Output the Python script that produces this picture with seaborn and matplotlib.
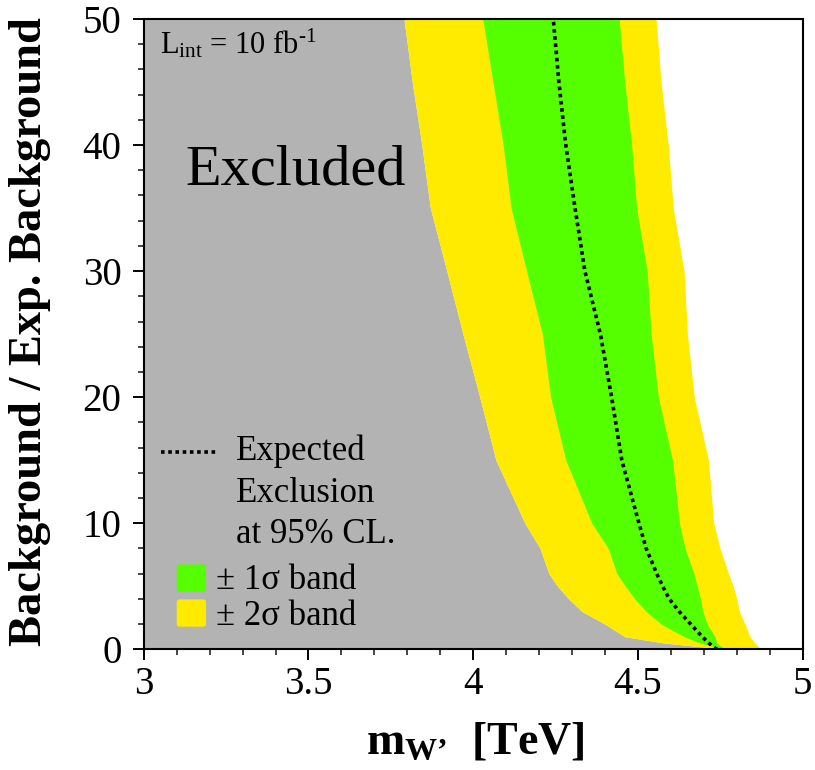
import numpy as np
import pandas as pd
import matplotlib
matplotlib.use("Agg")
import matplotlib.pyplot as plt
from matplotlib.patches import FancyBboxPatch
import seaborn as sns

# ---- data ----
sig_ratio = [0.0, 0.1, 0.5, 1, 2, 3, 4, 5, 6, 8, 10, 15, 20, 25, 30, 35, 40, 45, 50]
lo2 = [4.75, 4.73, 4.58, 4.46, 4.40, 4.33, 4.29, 4.256, 4.23, 4.203, 4.157, 4.069, 4.02,
       3.969, 3.92, 3.87, 3.844, 3.815, 3.79]
lo1 = [4.76, 4.75, 4.688, 4.64, 4.57, 4.525, 4.49, 4.462, 4.436, 4.41, 4.36, 4.281, 4.235,
       4.21, 4.162, 4.115, 4.091, 4.06, 4.029]
expected = [4.74, 4.734, 4.715, 4.695, 4.66, 4.625, 4.595, 4.575, 4.557, 4.525, 4.503, 4.451,
            4.42, 4.386, 4.339, 4.309, 4.281, 4.26, 4.243]
hi1 = [4.77, 4.76, 4.739, 4.734, 4.71, 4.697, 4.69, 4.68, 4.67, 4.643, 4.626, 4.605, 4.562,
       4.54, 4.528, 4.496, 4.481, 4.46, 4.443]
hi2 = [4.87, 4.87, 4.855, 4.84, 4.825, 4.808, 4.80, 4.789, 4.775, 4.749, 4.73, 4.714, 4.671,
       4.65, 4.64, 4.607, 4.592, 4.57, 4.555]
xticks = [3, 3.5, 4, 4.5, 5]
xticklabels = ["3", "3.5", "4", "4.5", "5"]
yticks = [0, 10, 20, 30, 40, 50]

df = pd.DataFrame({"y": sig_ratio, "lo2": lo2, "lo1": lo1, "exp": expected,
                   "hi1": hi1, "hi2": hi2})

GRAY = "#b3b3b3"
YELLOW = "#ffeb00"
GREEN = "#55ff00"

sns.set_theme(style="white")
plt.rcParams["font.family"] = ["Liberation Serif", "DejaVu Serif"]
plt.rcParams["text.color"] = "black"
plt.rcParams["axes.labelcolor"] = "black"
plt.rcParams["mathtext.fontset"] = "custom"
plt.rcParams["mathtext.rm"] = "Liberation Serif"
plt.rcParams["mathtext.it"] = "Liberation Serif:italic"
plt.rcParams["mathtext.bf"] = "Liberation Serif:bold"

fig = plt.figure(figsize=(8.15, 7.7), dpi=100)
W, H = 815, 770
ax_l, ax_r, ax_t, ax_b = 143.7, 802.7, 19.0, 649.3
ax = fig.add_axes([ax_l / W, 1 - ax_b / H, (ax_r - ax_l) / W, (ax_b - ax_t) / H])

ax.fill_betweenx(df["y"], 3, df["lo2"], color=GRAY, lw=0)
ax.fill_betweenx(df["y"], df["lo2"], df["hi2"], color=YELLOW, lw=0)
ax.fill_betweenx(df["y"], df["lo1"], df["hi1"], color=GREEN, lw=0)
sns.lineplot(data=df, x="exp", y="y", sort=False, estimator=None, ax=ax,
             color="black", lw=2.6)
ax.lines[-1].set_linestyle((0, (1, 1)))
ax.lines[-1].set_dash_capstyle("butt")

ax.set_xlim(3, 5)
ax.set_ylim(0, 50)
ax.set_xticks(xticks)
ax.set_xticklabels(xticklabels)
ax.set_yticks(yticks)
ax.set_xticks(np.arange(3, 5.001, 0.1), minor=True)
ax.set_yticks(np.arange(0, 50.001, 2), minor=True)
ax.tick_params(axis="both", which="major", direction="out", length=8, width=1.4,
               labelsize=28, colors="black", bottom=True, left=True, top=False, right=False)
ax.tick_params(axis="x", which="major", pad=4)
ax.tick_params(axis="y", which="major", pad=8)
ax.tick_params(axis="both", which="minor", direction="out", length=4, width=1.2,
               bottom=True, left=True, top=False, right=False)
for s in ax.spines.values():
    s.set_color("black")
    s.set_linewidth(1.5)
ax.set_xlabel("")
ax.set_ylabel("")

# axis titles
fig.text(30 / W, 1 - 332 / H, "Background / Exp. Background", rotation=90,
         ha="center", va="center", fontsize=33.5, fontweight="bold", color="black")
fig.text(475.5 / W, 1 - 753 / H, "m$_{\\mathbf{W\u2019}}$  [TeV]", ha="center",
         va="baseline", fontsize=33, fontweight="bold", color="black")

# annotations
ax.text(0.0248, 0.946, r"L$_{\mathrm{int}}$ = 10 fb$^{\text{-1}}$", transform=ax.transAxes,
        fontsize=22, va="baseline", ha="left", color="black")
ax.text(0.0627, 0.7382, "Excluded", transform=ax.transAxes, fontsize=42,
        va="baseline", ha="left", color="black")

# legend
ax.plot([0.0255, 0.1135], [0.3135, 0.3135], transform=ax.transAxes, color="black",
        lw=2.6, ls=(0, (1, 1)), dash_capstyle="butt")
for txt, fy in [("Expected", 0.3003), ("Exclusion", 0.2342), ("at 95% CL.", 0.1691)]:
    ax.text(0.140, fy, txt, transform=ax.transAxes, fontsize=25, va="baseline", ha="left",
            color="black")
for col, y0, txt, ty in [(GREEN, 0.0914, "\u00b1 1\u03c3 band", 0.0952),
                         (YELLOW, 0.0359, "\u00b1 2\u03c3 band", 0.0386)]:
    p = FancyBboxPatch((0.0501, y0), 0.0444, 0.0433,
                       boxstyle="round,pad=0,rounding_size=0.004",
                       transform=ax.transAxes, facecolor=col, edgecolor="none")
    ax.add_patch(p)
    ax.text(0.1097, ty, txt, transform=ax.transAxes, fontsize=25, va="baseline", ha="left",
            color="black")

fig.savefig("out.png", dpi=100)
